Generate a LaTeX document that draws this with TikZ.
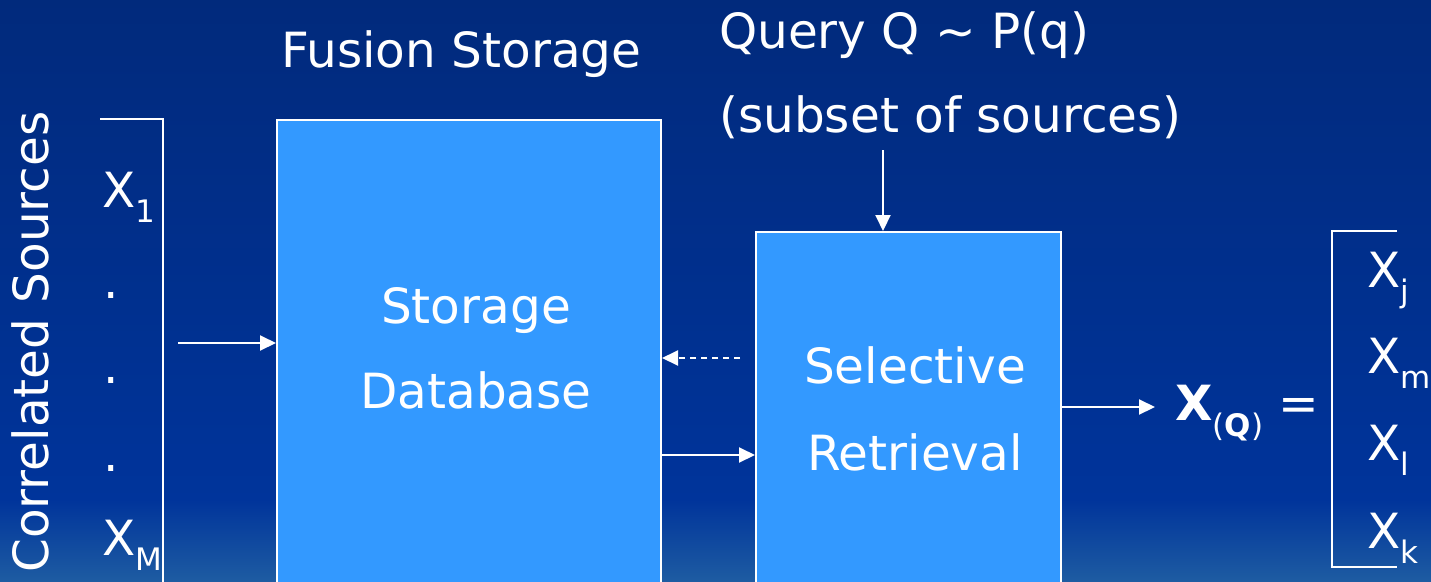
\documentclass[tikz,border=0pt]{standalone}
\usepackage{fontspec}
\setmainfont{DejaVu Sans}
\usetikzlibrary{arrows.meta}
\definecolor{bgtop}{RGB}{1,42,124}
\definecolor{bgmid}{RGB}{0,52,155}
\definecolor{bgbot}{RGB}{30,92,162}
\definecolor{boxblue}{RGB}{51,153,255}
\newcommand\subtxt[1]{\raisebox{-15pt}{\fontsize{31}{31}\selectfont #1}}
\begin{document}
\begin{tikzpicture}[x=1pt,y=-1pt,
  lbl/.style={text=white,inner sep=0pt,font=\fontsize{48.5}{58}\selectfont},
  blk/.style={draw=white,line width=2pt,fill=boxblue,rectangle,inner sep=0pt,anchor=north west},
  arr/.style={draw=white,line width=2pt,-{Triangle[length=16pt,width=15pt]}},
  darr/.style={arr,dash pattern=on 6pt off 5pt},
  brk/.style={draw=white,line width=2pt}]
\useasboundingbox (0,0) rectangle (1431,581);
\clip (0,0) rectangle (1431,581);
% background
\fill[top color=bgtop,bottom color=bgmid] (0,-1) rectangle (1431,500);
\fill[top color=bgmid,bottom color=bgbot] (0,499) rectangle (1431,582);
% vertical title
\node[lbl,rotate=90,anchor=base west] (cs) at (48,573) {Correlated Sources};
% left bracket and sources
\draw[brk] (100,119) -- (163,119) -- (163,590);
\node[lbl,anchor=base west] (x1) at (102,207) {X\subtxt{1}};
\node[lbl,anchor=base west] (d1) at (103,298) {.};
\node[lbl,anchor=base west] (d2) at (103,383) {.};
\node[lbl,anchor=base west] (d3) at (103,471) {.};
\node[lbl,anchor=base west] (xm) at (102,555) {X\subtxt{M}};
% storage database
\node[lbl,anchor=base west] (fs) at (281,67) {Fusion Storage};
\node[blk,minimum width=384pt,minimum height=480pt] (db) at (276,119) {};
\node[lbl,anchor=base] (t1) at (476,323) {Storage};
\node[lbl,anchor=base] (t2) at (476,408) {Database};
% selective retrieval
\node[lbl,anchor=base west] (q1) at (719,48) {Query Q \textasciitilde{} P(q)};
\node[lbl,anchor=base west] (q2) at (719,132) {(subset of sources)};
\node[blk,minimum width=305pt,minimum height=370pt] (sr) at (755,231) {};
\node[lbl,anchor=base] (t3) at (915,383) {Selective};
\node[lbl,anchor=base] (t4) at (915,470) {Retrieval};
% output
\node[lbl,anchor=base west] (xq) at (1175,420) {\textbf{X}\raisebox{-16pt}{\fontsize{31}{31}\selectfont(\textbf{Q})}};
\node[lbl,anchor=base west] (eq) at (1278,420) {=};
\draw[brk] (1397,231) -- (1332,231) -- (1332,567) -- (1397,567);
\node[lbl,anchor=base west] (xj) at (1367,287) {X\subtxt{j}};
\node[lbl,anchor=base west] (xmm) at (1367,373) {X\subtxt{m}};
\node[lbl,anchor=base west] (xl) at (1367,460) {X\subtxt{l}};
\node[lbl,anchor=base west] (xk) at (1367,548) {X\subtxt{k}};
% connectors
\coordinate (inS) at (178,343);
\coordinate (qS) at (883,150);
\coordinate (fbS) at (740,358);
\coordinate (outE) at (1155,407);
\draw[arr] (inS) -- (inS -| db.west);
\draw[arr] (qS) -- (qS |- sr.north);
\draw[darr] (fbS) -- (fbS -| db.east);
\draw[arr] (db.east |- 0,455) -- (sr.west |- 0,455);
\draw[arr] (sr.east |- outE) -- (outE);
\end{tikzpicture}
\end{document}
